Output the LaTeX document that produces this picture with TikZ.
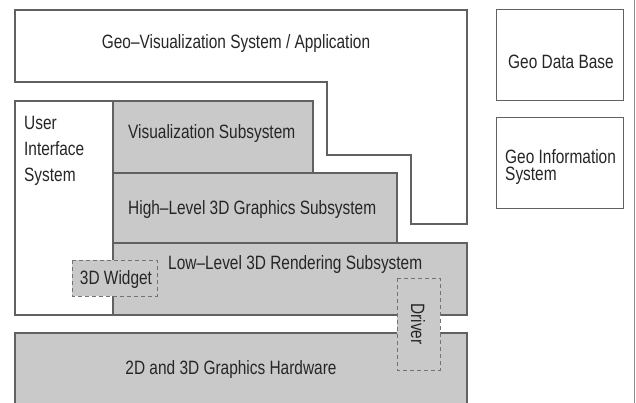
\documentclass[tikz,border=0pt]{standalone}
\usepackage{fontspec}
\setmainfont{Liberation Sans}[FakeStretch=0.8]
\begin{document}
\begin{tikzpicture}[x=1pt,y=-1pt,
  line/.style={draw=black!62,line width=1.3pt},
  graybox/.style={line,fill=black!21},
  dashbox/.style={draw=black!55,line width=1pt,dash pattern=on 4pt off 3pt,fill=black!21},
  lbl/.style={inner sep=0pt,text=black!85,font=\fontsize{19.3}{26}\selectfont}]
\useasboundingbox (0,0) rectangle (636,403);
\fill[white] (0,0) rectangle (636,403);
% right border line
\draw[draw=black!45,line width=1pt] (634,0) -- (634,403);
% Geo-Visualization System / Application
\draw[line] (15,10) -- (467,10) -- (467,224) -- (411,224) -- (411,155) -- (327,155) -- (327,82) -- (15,82) -- cycle;
\node[lbl] (app) at (236,44) {Geo--Visualization System / Application};
% User interface system
\draw[line] (113,101) -- (15,101) -- (15,315) -- (467,315);
\node[lbl,anchor=north west,align=left] (ui) at (24,116) {User\\Interface\\System};
% subsystems
\draw[graybox] (113,101) rectangle (313,173);
\node[lbl,anchor=west] (vis) at (128,134) {Visualization Subsystem};
\draw[graybox] (113,173) rectangle (397,243);
\node[lbl,anchor=west] (high) at (128,210) {High--Level 3D Graphics Subsystem};
\draw[graybox] (113,243) rectangle (467,315);
\node[lbl,anchor=west] (low) at (168,265) {Low--Level 3D Rendering Subsystem};
% hardware
\draw[graybox] (15,410) -- (15,333) -- (467,333) -- (467,410);
\node[lbl] (hw) at (231,370) {2D and 3D Graphics Hardware};
% 3D widget
\draw[dashbox] (72,260) rectangle (157,296);
\node[lbl] (widget) at (116,280) {3D Widget};
% driver
\draw[dashbox] (397,278) rectangle (440,370);
\node[lbl,rotate=-90] (driver) at (418,324) {Driver};
% right boxes
\draw[line,line width=1pt] (496,10) rectangle (623,101);
\node[lbl] (db) at (561,62) {Geo Data Base};
\draw[line,line width=1pt] (496,118) rectangle (623,209);
\node[lbl,anchor=north west,align=left,font=\fontsize{19.3}{17.5}\selectfont] (gis) at (505,149) {Geo Information\\System};
\end{tikzpicture}
\end{document}
